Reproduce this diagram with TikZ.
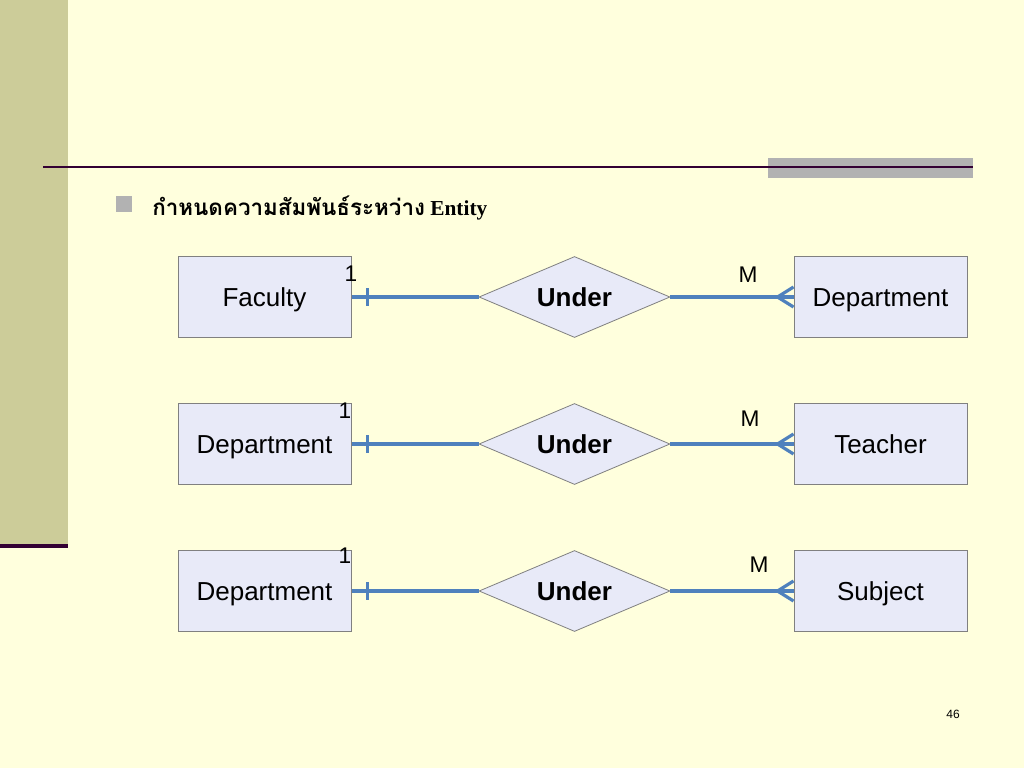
\documentclass[tikz,border=0pt]{standalone}
\usepackage{fontspec}
\setmainfont{Liberation Sans}
\newfontfamily\thaifont[Script=Thai]{Loma}
\newfontfamily\timesfont{Liberation Serif}
\usetikzlibrary{shapes.geometric}
\definecolor{bgc}{RGB}{255,255,221}
\definecolor{sidec}{RGB}{204,204,153}
\definecolor{darkc}{RGB}{51,0,51}
\definecolor{grayc}{RGB}{178,178,178}
\definecolor{boxc}{RGB}{232,234,248}
\definecolor{edgec}{RGB}{128,128,128}
\definecolor{relc}{RGB}{79,129,189}
\tikzset{
  entity/.style={draw=edgec, line width=0.75pt, fill=boxc, rectangle, minimum width=129.75pt, minimum height=60.75pt, inner sep=0pt, text height=14pt, text depth=0pt, font=\fontsize{19.5pt}{23pt}\selectfont},
  relship/.style={draw=edgec, line width=0.6pt, fill=boxc, diamond, aspect=2.36, minimum width=143.25pt, minimum height=60.75pt, inner sep=0pt, text height=14pt, text depth=0pt, font=\fontsize{19.5pt}{23pt}\selectfont\bfseries},
  rel/.style={draw=relc, line width=2.4pt},
  card/.style={inner sep=0pt, font=\fontsize{17pt}{20pt}\selectfont}
}
\begin{document}
\begin{tikzpicture}[x=0.75pt,y=-0.75pt]
\useasboundingbox (0,0) rectangle (1024,768);
\fill[bgc] (0,0) rectangle (1024,768);
\fill[sidec] (0,0) rectangle (68,545);
\draw[darkc, line width=2.4pt] (0,546) -- (68,546);
\fill[grayc] (768,158) rectangle (973,178);
\draw[darkc, line width=1.6pt] (43,167) -- (973,167);
\fill[grayc] (116,196) rectangle (132,212);
\node[anchor=base west, inner sep=0pt] (title) at (152,215) {\bfseries{\fontsize{16.8pt}{19pt}\selectfont\thaifont กำหนดความสัมพันธ์ระหว่าง}{\fontsize{16pt}{19pt}\selectfont\timesfont\ Entity}};

\foreach \r/\y/\a/\b/\ox/\oy/\mx/\my in {1/297/Faculty/Department/351/274/748/275, 2/444/Department/Teacher/345/411/750/419, 3/591/Department/Subject/345/556/759/565}{
  \node[entity] (l\r) at (264.5,\y) {\a};
  \node[entity] (r\r) at (880.5,\y) {\b};
  \node[relship] (d\r) at (574.5,\y) {Under};
  \draw[rel] (l\r.east) -- (d\r.west);
  \draw[rel] (d\r.east) -- (r\r.west);
  \draw[rel] ([xshift=12pt,yshift=6.75pt]l\r.east) -- ([xshift=12pt,yshift=-6.75pt]l\r.east);
  \draw[rel] ([yshift=7.5pt]r\r.west) -- ([xshift=-12pt]r\r.west) -- ([yshift=-7.5pt]r\r.west);
  \node[card] (one\r) at (\ox,\oy) {1};
  \node[card] (many\r) at (\mx,\my) {M};
}
\node[inner sep=0pt, font=\fontsize{9pt}{11pt}\selectfont] (page) at (953,714) {46};
\end{tikzpicture}
\end{document}
